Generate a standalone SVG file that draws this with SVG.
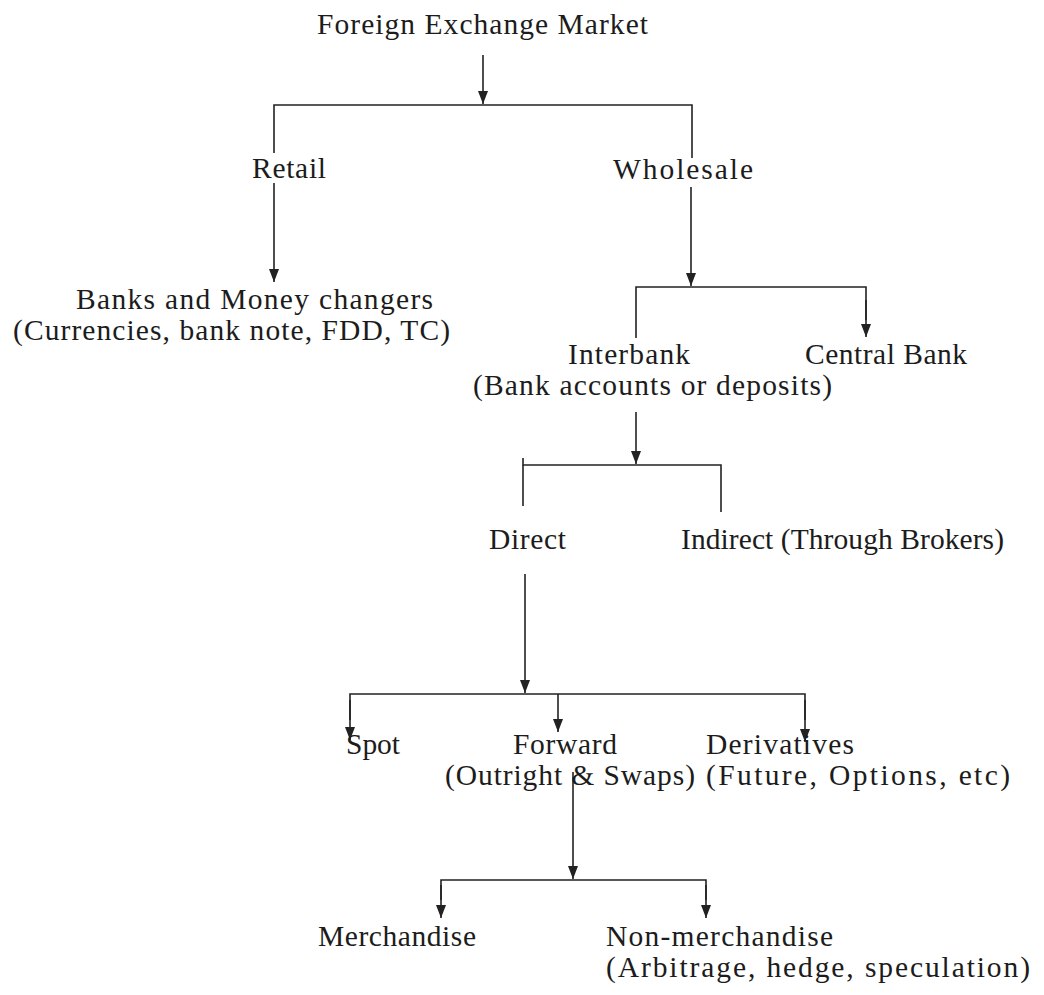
<svg xmlns="http://www.w3.org/2000/svg" width="1044" height="995" viewBox="0 0 1044 995">
  <style>
    .lbl { font-family: "Liberation Serif", "Times New Roman", serif; font-size: 29.5px; fill: #1c1c1c; }
    .ln { stroke: #222; stroke-width: 1.6; fill: none; }
    .arr { stroke: #222; stroke-width: 1.6; fill: none; marker-end: url(#head); }
  </style>
  <defs>
    <marker id="head" viewBox="0 -5 13 10" refX="13" refY="0" markerWidth="13" markerHeight="10" markerUnits="userSpaceOnUse" orient="auto">
      <path d="M0,-5 L13,0 L0,5 z" fill="#222"/>
    </marker>
  </defs>
  <rect width="1044" height="995" fill="#fff"/>

  <g id="connectors">
    <!-- market split -->
    <line class="arr" x1="483" y1="55" x2="483" y2="104"/>
    <polyline class="ln" points="274,153 274,105 692,105 692,158"/>
    <line class="arr" x1="274" y1="183" x2="274" y2="282"/>
    <!-- wholesale split -->
    <line class="arr" x1="691" y1="187" x2="691" y2="286"/>
    <polyline class="ln" points="636,338 636,287 866,287 866,320"/>
    <line class="arr" x1="866" y1="300" x2="866" y2="337"/>
    <!-- interbank split -->
    <line class="arr" x1="636" y1="412" x2="636" y2="464"/>
    <polyline class="ln" points="523,458 523,465 721,465 721,512"/>
    <line class="ln" x1="523" y1="465" x2="523" y2="506"/>
    <!-- direct split -->
    <line class="arr" x1="525" y1="574" x2="525" y2="693"/>
    <polyline class="ln" points="350,720 350,694 805,694 805,720"/>
    <line class="arr" x1="350" y1="700" x2="350" y2="740"/>
    <line class="arr" x1="558" y1="694" x2="558" y2="732"/>
    <line class="arr" x1="805" y1="700" x2="805" y2="742"/>
    <!-- forward split -->
    <line class="arr" x1="573" y1="772" x2="573" y2="879"/>
    <polyline class="ln" points="441,900 441,880 706,880 706,900"/>
    <line class="arr" x1="441" y1="885" x2="441" y2="918"/>
    <line class="arr" x1="706" y1="885" x2="706" y2="918"/>
  </g>

  <g id="n-market"><text class="lbl" x="317" y="34" textLength="331" lengthAdjust="spacing">Foreign Exchange Market</text></g>
  <g id="n-retail"><text class="lbl" x="252" y="178" textLength="74" lengthAdjust="spacing">Retail</text></g>
  <g id="n-wholesale"><text class="lbl" x="613" y="179" textLength="140" lengthAdjust="spacing">Wholesale</text></g>
  <g id="n-banks">
    <text class="lbl" x="76" y="309" textLength="357" lengthAdjust="spacing">Banks and Money changers</text>
    <text class="lbl" x="13" y="340" textLength="437" lengthAdjust="spacing">(Currencies, bank note, FDD, TC)</text>
  </g>
  <g id="n-interbank">
    <text class="lbl" x="568" y="364" textLength="122" lengthAdjust="spacing">Interbank</text>
    <text class="lbl" x="473" y="395" textLength="359" lengthAdjust="spacing">(Bank accounts or deposits)</text>
  </g>
  <g id="n-central"><text class="lbl" x="805" y="364" textLength="162" lengthAdjust="spacing">Central Bank</text></g>
  <g id="n-direct"><text class="lbl" x="489" y="549" textLength="77" lengthAdjust="spacing">Direct</text></g>
  <g id="n-indirect"><text class="lbl" x="681" y="549" textLength="323" lengthAdjust="spacing">Indirect (Through Brokers)</text></g>
  <g id="n-spot"><text class="lbl" x="346" y="754" textLength="54" lengthAdjust="spacing">Spot</text></g>
  <g id="n-forward">
    <text class="lbl" x="513" y="754" textLength="104" lengthAdjust="spacing">Forward</text>
    <text class="lbl" x="445" y="785" textLength="250" lengthAdjust="spacing">(Outright &amp; Swaps)</text>
  </g>
  <g id="n-derivatives">
    <text class="lbl" x="706" y="754" textLength="148" lengthAdjust="spacing">Derivatives</text>
    <text class="lbl" x="706" y="785" textLength="304" lengthAdjust="spacing">(Future, Options, etc)</text>
  </g>
  <g id="n-merch"><text class="lbl" x="318" y="946" textLength="158" lengthAdjust="spacing">Merchandise</text></g>
  <g id="n-nonmerch">
    <text class="lbl" x="606" y="946" textLength="227" lengthAdjust="spacing">Non-merchandise</text>
    <text class="lbl" x="606" y="977" textLength="424" lengthAdjust="spacing">(Arbitrage, hedge, speculation)</text>
  </g>
</svg>
